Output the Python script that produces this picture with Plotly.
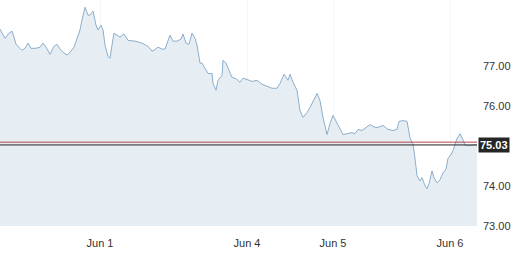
import plotly.graph_objects as go

# time index (trading-time units) and price values
t = [0, 5, 9, 12, 14, 16, 20, 22, 25, 28, 31, 36, 40, 43, 46, 50, 54, 57, 60, 63,
     67, 70, 74, 77, 80, 82, 85, 88, 90, 93, 96, 98, 101, 103, 105, 108, 110, 112, 114, 117,
     120, 124, 128, 135, 142, 148, 152, 154, 158, 162, 165, 170, 173, 177, 181, 183, 186, 189, 192, 195,
     197, 200, 202, 205, 208, 212, 213, 216, 218, 222, 223, 226, 228, 232, 235, 237, 240, 243, 247, 252,
     257, 262, 267, 272, 277, 280, 284, 288, 290, 293, 297, 300, 303, 307, 310, 314, 317, 320, 323, 327,
     330, 333, 337, 340, 343, 347, 352, 355, 358, 362, 365, 370, 375, 378, 383, 388, 393, 397, 399, 403,
     407, 410, 412, 413, 415, 417, 420, 422, 425, 427, 429, 432, 434, 437, 440, 443, 446, 448, 451, 453,
     457, 460, 463, 465, 468, 472, 475, 477]
price = [77.93, 77.70, 77.83, 77.88, 77.73, 77.55, 77.45, 77.40, 77.45, 77.58, 77.45, 77.45, 77.48, 77.58, 77.48, 77.30, 77.50, 77.55, 77.43, 77.35,
         77.28, 77.35, 77.48, 77.70, 77.91, 78.16, 78.48, 78.28, 78.28, 78.38, 78.03, 77.91, 78.03, 77.91, 77.53, 77.25, 77.20, 77.53, 77.83, 77.78,
         77.73, 77.81, 77.65, 77.63, 77.58, 77.50, 77.38, 77.40, 77.48, 77.43, 77.43, 77.78, 77.63, 77.63, 77.68, 77.81, 77.58, 77.55, 77.83, 77.70,
         77.53, 77.08, 77.08, 76.95, 76.82, 76.82, 76.57, 76.40, 76.65, 76.77, 77.15, 77.08, 76.97, 76.72, 76.70, 76.67, 76.60, 76.70, 76.67, 76.62,
         76.65, 76.55, 76.50, 76.45, 76.45, 76.57, 76.80, 76.65, 76.80, 76.60, 76.40, 75.89, 75.72, 75.84, 75.97, 76.17, 76.32, 76.14, 75.72, 75.29,
         75.57, 75.77, 75.59, 75.44, 75.29, 75.31, 75.34, 75.31, 75.42, 75.39, 75.44, 75.54, 75.47, 75.47, 75.52, 75.42, 75.39, 75.42, 75.62, 75.64,
         75.62, 75.21, 75.09, 75.06, 74.69, 74.26, 74.13, 74.21, 74.01, 73.93, 74.06, 74.38, 74.21, 74.08, 74.16, 74.33, 74.43, 74.69, 74.79, 74.89,
         75.19, 75.31, 75.16, 75.03, 75.01, 75.03, 75.03, 75.03]

tick_pos = [100, 247, 333, 450]
tick_text = ["Jun 1", "Jun 4", "Jun 5", "Jun 6"]
y_ticks = [73, 74, 76, 77]
last_price = 75.03
prev_close = 75.10

fig = go.Figure()
fig.add_trace(go.Scatter(
    x=t, y=price, mode="lines",
    line=dict(color="#8eaecb", width=1),
    fill="tozeroy", fillcolor="#e6eef4",
    hoverinfo="skip", showlegend=False,
))

fig.add_shape(type="line", xref="paper", x0=0, x1=1, yref="y", y0=prev_close, y1=prev_close,
              line=dict(color="#b5474a", width=1))
fig.add_shape(type="line", xref="paper", x0=0, x1=1, yref="y", y0=last_price, y1=last_price,
              line=dict(color="#222222", width=1))

fig.add_annotation(
    xref="paper", x=1, yref="y", y=last_price, xanchor="left", yanchor="middle",
    text="<b>%.2f</b>" % last_price, showarrow=False,
    font=dict(family="Liberation Sans, Arial, sans-serif", size=11, color="white"),
    bgcolor="#262626", borderpad=1, xshift=1,
)

fig.update_layout(
    width=514, height=255,
    margin=dict(l=0, r=37, t=0, b=29),
    paper_bgcolor="white", plot_bgcolor="white",
    font=dict(family="Liberation Sans, Arial, sans-serif", size=11, color="#333333"),
    xaxis=dict(range=[0, 477], tickvals=tick_pos, ticktext=tick_text,
               showgrid=True, gridcolor="rgba(0,0,0,0.035)", gridwidth=1,
               zeroline=False, showline=False, ticks="", fixedrange=True,
               ticklabelstandoff=9),
    yaxis=dict(range=[73.0, 78.66], side="right", tickvals=y_ticks, tickformat=".2f",
               showgrid=False, zeroline=False, showline=False, ticks="",
               ticklabelstandoff=5),
)

fig.write_html("out.html")
